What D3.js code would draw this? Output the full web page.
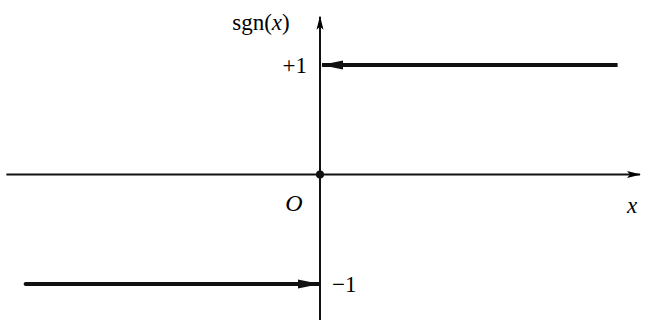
<!DOCTYPE html>
<html><head><meta charset="utf-8">
<script src="https://cdn.jsdelivr.net/npm/d3@7"></script>
<style>body{margin:0;background:#fff}svg{display:block}</style>
</head><body>
<script>
// data
const leftX = [-0.92, 0];   // sgn = -1 for x < 0
const leftY = -1;
const rightX = [0, 0.93];   // sgn = +1 for x > 0
const rightY = 1;
const yTickValues = [1, -1];
const yTickLabels = ["+1", "\u22121"];
const xAxisExtent = [-0.98, 1.0];
const yAxisExtent = [-1.34, 1.44];

const W = 646, H = 320;
const svg = d3.select("body").append("svg").attr("width", W).attr("height", H);
const x = d3.scaleLinear().domain([-1, 1]).range([0, 640]);
const y = d3.scaleLinear().domain([-1, 1]).range([284, 65]);

const defs = svg.append("defs");
defs.append("marker").attr("id","axArrow").attr("viewBox","0 0 14 8").attr("refX",13).attr("refY",4)
  .attr("markerWidth",14).attr("markerHeight",8).attr("markerUnits","userSpaceOnUse").attr("orient","auto")
  .append("path").attr("d","M0,0.5 L14,4 L0,7.5 L3,4 Z").attr("fill","#000");
defs.append("marker").attr("id","dataArrow").attr("viewBox","0 0 22 10").attr("refX",21).attr("refY",5)
  .attr("markerWidth",22).attr("markerHeight",10).attr("markerUnits","userSpaceOnUse").attr("orient","auto")
  .append("path").attr("d","M0,0.5 L22,5 L0,9.5 Z").attr("fill","#111");

// x axis
svg.append("line").attr("x1", x(xAxisExtent[0])).attr("x2", x(xAxisExtent[1]))
  .attr("y1", y(0)).attr("y2", y(0)).attr("stroke","#111").attr("stroke-width",2)
  .attr("marker-end","url(#axArrow)");
// y axis
svg.append("line").attr("x1", x(0)).attr("x2", x(0))
  .attr("y1", y(yAxisExtent[0])).attr("y2", y(yAxisExtent[1])).attr("stroke","#111").attr("stroke-width",2)
  .attr("marker-end","url(#axArrow)");

// data lines (arrowhead pointing toward the y axis)
svg.append("line").attr("x1", x(leftX[0])).attr("x2", x(leftX[1]) - 1)
  .attr("y1", y(leftY)).attr("y2", y(leftY)).attr("stroke","#111").attr("stroke-width",4)
  .attr("stroke-linecap","round").attr("marker-end","url(#dataArrow)");
svg.append("line").attr("x1", x(rightX[1])).attr("x2", x(rightX[0]) + 2)
  .attr("y1", y(rightY)).attr("y2", y(rightY)).attr("stroke","#111").attr("stroke-width",4)
  .attr("marker-end","url(#dataArrow)");

// origin dot
svg.append("circle").attr("cx", x(0)).attr("cy", y(0)).attr("r", 4).attr("fill","#111");

const font = "'Liberation Serif', 'Times New Roman', serif";
// tick labels
svg.append("text").attr("x", x(0) - 13).attr("y", y(yTickValues[0]) + 8).attr("text-anchor","end")
  .attr("font-family", font).attr("font-size", 23).text(yTickLabels[0]);
svg.append("text").attr("x", x(0) + 12).attr("y", y(yTickValues[1]) + 8).attr("text-anchor","start")
  .attr("font-family", font).attr("font-size", 23).text(yTickLabels[1]);
// O
svg.append("text").attr("x", x(0) - 26).attr("y", y(0) + 36).attr("text-anchor","middle")
  .attr("font-family", font).attr("font-size", 24).attr("font-style","italic").text("O");
// x label
svg.append("text").attr("x", 632).attr("y", y(0) + 38).attr("text-anchor","middle")
  .attr("font-family", font).attr("font-size", 23).attr("font-style","italic").text("x");
// y label
const yl = svg.append("text").attr("x", 261).attr("y", 30).attr("text-anchor","middle")
  .attr("font-family", font).attr("font-size", 23);
yl.append("tspan").text("sgn(");
yl.append("tspan").attr("font-style","italic").text("x");
yl.append("tspan").text(")");
</script>
</body></html>
